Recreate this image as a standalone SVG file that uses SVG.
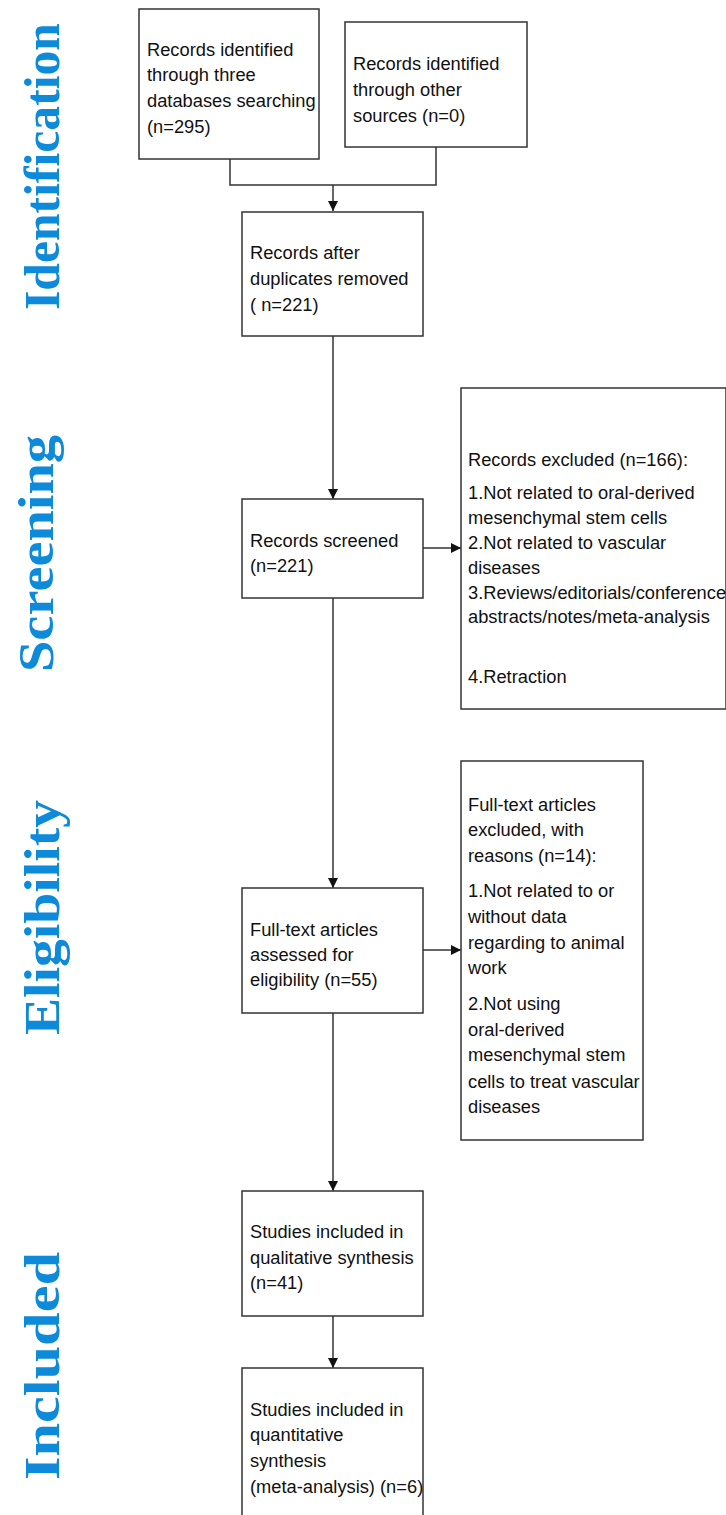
<svg xmlns="http://www.w3.org/2000/svg" width="726" height="1515" viewBox="0 0 726 1515">
<style>
.box{fill:#fff;stroke:#333;stroke-width:1.5}
.t{font-family:"Liberation Sans",Arial,sans-serif;font-size:18.3px;fill:#111}
.side{font-family:"Liberation Serif","Times New Roman",serif;font-weight:bold;font-size:50px;fill:#0d8ad9}
.ln{fill:none;stroke:#333;stroke-width:1.5}
</style>
<defs>
<marker id="ah" viewBox="0 0 10 10" refX="10" refY="5" markerWidth="10" markerHeight="10" markerUnits="userSpaceOnUse" orient="auto">
<path d="M0,0 L10,5 L0,10 Z" fill="#111"/>
</marker>
</defs>
<g id="side-labels">
<text class="side" transform="translate(59,310) rotate(-90)" textLength="287" lengthAdjust="spacingAndGlyphs">Identification</text>
<text class="side" transform="translate(53,672) rotate(-90)" textLength="237" lengthAdjust="spacingAndGlyphs">Screening</text>
<text class="side" transform="translate(59,1035) rotate(-90)" textLength="235" lengthAdjust="spacingAndGlyphs">Eligibility</text>
<text class="side" transform="translate(59,1480) rotate(-90)" textLength="228" lengthAdjust="spacingAndGlyphs">Included</text>
</g>
<g id="connectors">
<path class="ln" d="M230,159 V185 H436 V147"/>
<path class="ln" d="M333,185 V211" marker-end="url(#ah)"/>
<path class="ln" d="M333,336 V499" marker-end="url(#ah)"/>
<path class="ln" d="M423,548 H461" marker-end="url(#ah)"/>
<path class="ln" d="M333,598 V888" marker-end="url(#ah)"/>
<path class="ln" d="M423,950 H461" marker-end="url(#ah)"/>
<path class="ln" d="M333,1013 V1191" marker-end="url(#ah)"/>
<path class="ln" d="M333,1316 V1368" marker-end="url(#ah)"/>
</g>
<g id="n1">
<rect class="box" x="139" y="9" width="180" height="150"/>
<text class="t" x="147" y="56">Records identified</text>
<text class="t" x="147" y="81">through three</text>
<text class="t" x="147" y="107">databases searching</text>
<text class="t" x="147" y="133">(n=295)</text>
</g>
<g id="n2">
<rect class="box" x="345" y="22" width="182" height="125"/>
<text class="t" x="353" y="70">Records identified</text>
<text class="t" x="353" y="96">through other</text>
<text class="t" x="353" y="122">sources (n=0)</text>
</g>
<g id="n3">
<rect class="box" x="242" y="212" width="181" height="124"/>
<text class="t" x="250" y="259">Records after</text>
<text class="t" x="250" y="285">duplicates removed</text>
<text class="t" x="250" y="311">( n=221)</text>
</g>
<g id="n4">
<rect class="box" x="242" y="499" width="181" height="99"/>
<text class="t" x="250" y="547">Records screened</text>
<text class="t" x="250" y="572">(n=221)</text>
</g>
<g id="n5">
<rect class="box" x="461" y="388" width="265" height="321"/>
<text class="t" x="468" y="466">Records excluded (n=166):</text>
<text class="t" x="468" y="499">1.Not related to oral-derived</text>
<text class="t" x="468" y="524">mesenchymal stem cells</text>
<text class="t" x="468" y="549">2.Not related to vascular</text>
<text class="t" x="468" y="574">diseases</text>
<text class="t" x="468" y="599">3.Reviews/editorials/conference</text>
<text class="t" x="468" y="623">abstracts/notes/meta-analysis</text>
<text class="t" x="468" y="683">4.Retraction</text>
</g>
<g id="n6">
<rect class="box" x="242" y="888" width="181" height="125"/>
<text class="t" x="250" y="936">Full-text articles</text>
<text class="t" x="250" y="961">assessed for</text>
<text class="t" x="250" y="986">eligibility (n=55)</text>
</g>
<g id="n7">
<rect class="box" x="461" y="761" width="182" height="379"/>
<text class="t" x="468" y="811">Full-text articles</text>
<text class="t" x="468" y="836">excluded, with</text>
<text class="t" x="468" y="862">reasons (n=14):</text>
<text class="t" x="468" y="897">1.Not related to or</text>
<text class="t" x="468" y="923">without data</text>
<text class="t" x="468" y="949">regarding to animal</text>
<text class="t" x="468" y="974">work</text>
<text class="t" x="468" y="1010">2.Not using</text>
<text class="t" x="468" y="1036">oral-derived</text>
<text class="t" x="468" y="1061">mesenchymal stem</text>
<text class="t" x="468" y="1088">cells to treat vascular</text>
<text class="t" x="468" y="1113">diseases</text>
</g>
<g id="n8">
<rect class="box" x="242" y="1191" width="181" height="125"/>
<text class="t" x="250" y="1238">Studies included in</text>
<text class="t" x="250" y="1264">qualitative synthesis</text>
<text class="t" x="250" y="1289">(n=41)</text>
</g>
<g id="n9">
<rect class="box" x="242" y="1368" width="181" height="160"/>
<text class="t" x="250" y="1416">Studies included in</text>
<text class="t" x="250" y="1441">quantitative</text>
<text class="t" x="250" y="1467">synthesis</text>
<text class="t" x="250" y="1493">(meta-analysis) (n=6)</text>
</g>
</svg>
